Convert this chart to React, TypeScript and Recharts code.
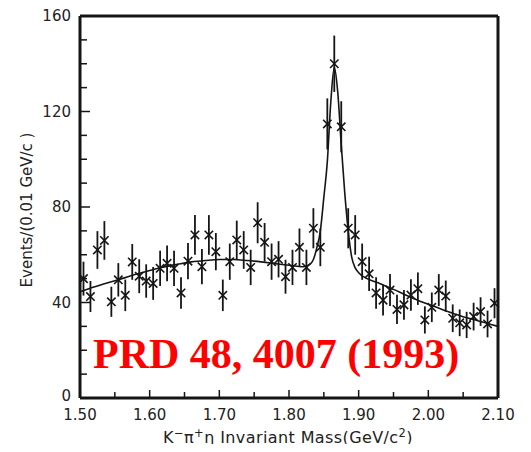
import React from 'react';
import { ComposedChart, Scatter, Line, XAxis, YAxis, ErrorBar } from 'recharts';

// bin centres (GeV/c^2), 0.01 wide
const massBins = [
  1.505, 1.515, 1.525, 1.535, 1.545, 1.555, 1.565, 1.575, 1.585, 1.595,
  1.605, 1.615, 1.625, 1.635, 1.645, 1.655, 1.665, 1.675, 1.685, 1.695,
  1.705, 1.715, 1.725, 1.735, 1.745, 1.755, 1.765, 1.775, 1.785, 1.795,
  1.805, 1.815, 1.825, 1.835, 1.845, 1.855, 1.865, 1.875, 1.885, 1.895,
  1.905, 1.915, 1.925, 1.935, 1.945, 1.955, 1.965, 1.975, 1.985, 1.995,
  2.005, 2.015, 2.025, 2.035, 2.045, 2.055, 2.065, 2.075, 2.085, 2.095,
];

const events = [
  50, 42.5, 62, 66, 40.3, 49.5, 43, 57, 51, 49,
  48, 54.3, 56.4, 54.3, 44, 57.3, 68.3, 55, 68.3, 61.3,
  43, 57.1, 66.2, 62, 54.7, 73.4, 65.2, 57.1, 58.1, 50.8,
  54.7, 63.1, 54.7, 71.1, 63.1, 114.8, 140, 113.6, 71.1, 68.3,
  57.1, 52, 44, 41, 45.2, 37.1, 39, 43.1, 45.8, 32.7,
  38, 45.2, 42.7, 33.4, 31.5, 30.6, 34.1, 36.2, 31, 39.7,
];

const eventErrors = [
  7.1, 6.5, 7.9, 8.1, 6.3, 7.0, 6.6, 7.5, 7.1, 7.0,
  6.9, 7.4, 7.5, 7.4, 6.6, 7.6, 8.3, 7.4, 8.3, 7.8,
  6.6, 7.6, 8.1, 7.9, 7.4, 8.6, 8.1, 7.6, 7.6, 7.1,
  7.4, 7.9, 7.4, 8.4, 7.9, 10.7, 11.8, 10.7, 8.4, 8.3,
  7.6, 7.2, 6.6, 6.4, 6.7, 6.1, 6.2, 6.6, 6.8, 5.7,
  6.2, 6.7, 6.5, 5.8, 5.6, 5.5, 5.8, 6.0, 5.6, 6.3,
];

// fitted curve
const fitMass = [
  1.5, 1.52, 1.54, 1.56, 1.58, 1.6, 1.62, 1.64, 1.66, 1.68,
  1.7, 1.72, 1.74, 1.76, 1.78, 1.8, 1.82, 1.83, 1.835, 1.84,
  1.845, 1.85, 1.855, 1.86, 1.865, 1.87, 1.875, 1.88, 1.885, 1.89,
  1.895, 1.9, 1.91, 1.92, 1.93, 1.95, 1.97, 1.99, 2.01, 2.03,
  2.05, 2.07, 2.09, 2.1,
];
const fitEvents = [
  44.5, 46.5, 48.3, 50, 51.8, 53.4, 54.9, 56, 57, 57.6,
  58, 58, 57.6, 57, 56.3, 55.6, 55, 56, 58, 63,
  70, 84, 99, 124, 138.5, 128, 106, 86, 70, 59,
  54.5, 52.5, 50.3, 49, 48, 45.5, 42.8, 40.3, 38.2, 36,
  34, 32.5, 30.8, 30,
];

const xTicks = [1.5, 1.55, 1.6, 1.65, 1.7, 1.75, 1.8, 1.85, 1.9, 1.95, 2.0, 2.05, 2.1];
const xTickLabels = ['1.50', '1.60', '1.70', '1.80', '1.90', '2.00', '2.10'];
const yTicks = [0, 10, 20, 30, 40, 50, 60, 70, 80, 90, 100, 110, 120, 130, 140, 150, 160];
const yTickLabels = [0, 40, 80, 120, 160];

const points = massBins.map((x, i) => ({ x, y: events[i], err: eventErrors[i] }));
const fit = fitMass.map((x, i) => ({ x, y: fitEvents[i] }));

const ink = '#151515';
const tickFont = { fontFamily: 'DejaVu Sans', fontSize: 15, fill: '#222' };

const fmtX = (v: number) => v.toFixed(2);

const BottomTick = ({ x, y, payload }: any) => {
  const label = fmtX(payload.value);
  const major = xTickLabels.includes(label);
  return (
    <g>
      <line x1={x} x2={x} y1={y} y2={y - (major ? 8 : 6)} stroke={ink} strokeWidth={1.5} />
      {major && (
        <text x={x} y={y + 22} textAnchor="middle" {...tickFont}>
          {label}
        </text>
      )}
    </g>
  );
};

const TopTick = ({ x, y, payload }: any) => {
  const major = xTickLabels.includes(fmtX(payload.value));
  return <line x1={x} x2={x} y1={y} y2={y + (major ? 9 : 6)} stroke={ink} strokeWidth={1.5} />;
};

const LeftTick = ({ x, y, payload }: any) => {
  const major = yTickLabels.includes(payload.value);
  return (
    <g>
      <line x1={x} x2={x + (major ? 10 : 7)} y1={y} y2={y} stroke={ink} strokeWidth={1.5} />
      {major && (
        <text x={x - 9} y={payload.value === 0 ? y - 2 : y} dy="0.36em" textAnchor="end" {...tickFont}>
          {payload.value}
        </text>
      )}
    </g>
  );
};

const RightTick = ({ x, y, payload }: any) => {
  const major = yTickLabels.includes(payload.value);
  return <line x1={x} x2={x - (major ? 10 : 7)} y1={y} y2={y} stroke={ink} strokeWidth={1.5} />;
};

const Cross = ({ cx, cy }: any) => {
  if (cx == null || cy == null) return null;
  const r = 4.2;
  return (
    <g stroke={ink} strokeWidth={1.6}>
      <line x1={cx - r} y1={cy - r} x2={cx + r} y2={cy + r} />
      <line x1={cx - r} y1={cy + r} x2={cx + r} y2={cy - r} />
    </g>
  );
};

const supStyle = { fontSize: '0.72em', lineHeight: 0 };

export default function App() {
  return (
    <div style={{ position: 'relative', width: 531, height: 452, margin: -8, background: '#fff' }}>
      <ComposedChart width={531} height={452} margin={{ top: 0, right: 0, bottom: 0, left: 0 }}>
        <XAxis
          xAxisId="bottom"
          dataKey="x"
          type="number"
          domain={[1.5, 2.1]}
          ticks={xTicks}
          interval={0}
          height={54}
          tickSize={0}
          tickMargin={0}
          tickLine={false}
          axisLine={{ stroke: ink, strokeWidth: 3 }}
          tick={<BottomTick />}
        />
        <XAxis
          xAxisId="top"
          orientation="top"
          type="number"
          domain={[1.5, 2.1]}
          ticks={xTicks}
          interval={0}
          height={16}
          tickSize={0}
          tickMargin={0}
          tickLine={false}
          axisLine={{ stroke: ink, strokeWidth: 3 }}
          tick={<TopTick />}
        />
        <YAxis
          yAxisId="left"
          dataKey="y"
          type="number"
          domain={[0, 160]}
          ticks={yTicks}
          interval={0}
          width={80}
          tickSize={0}
          tickMargin={0}
          tickLine={false}
          axisLine={{ stroke: ink, strokeWidth: 3 }}
          tick={<LeftTick />}
        />
        <YAxis
          yAxisId="right"
          orientation="right"
          type="number"
          domain={[0, 160]}
          ticks={yTicks}
          interval={0}
          width={33}
          tickSize={0}
          tickMargin={0}
          tickLine={false}
          axisLine={{ stroke: ink, strokeWidth: 3 }}
          tick={<RightTick />}
        />
        <Line
          xAxisId="bottom"
          yAxisId="left"
          data={fit}
          dataKey="y"
          type="monotone"
          dot={false}
          stroke={ink}
          strokeWidth={1.6}
          isAnimationActive={false}
        />
        <Scatter
          xAxisId="bottom"
          yAxisId="left"
          data={points}
          dataKey="y"
          shape={(p: any) => <Cross cx={p.cx} cy={p.cy} />}
          isAnimationActive={false}
        >
          <ErrorBar dataKey="err" direction="y" width={0} stroke={ink} strokeWidth={1.8} />
        </Scatter>
      </ComposedChart>

      <div
        style={{
          position: 'absolute',
          left: 27,
          top: 210,
          transform: 'translate(-50%, -50%) rotate(-90deg)',
          whiteSpace: 'nowrap',
          fontFamily: 'DejaVu Sans',
          fontSize: 15,
          color: '#222',
        }}
      >
        Events/(0.01 GeV/c  )
      </div>

      <div
        style={{
          position: 'absolute',
          left: 288,
          top: 428,
          transform: 'translateX(-50%)',
          whiteSpace: 'nowrap',
          fontFamily: 'DejaVu Sans',
          fontSize: 16,
          letterSpacing: 0.4,
          color: '#222',
          lineHeight: '20px',
        }}
      >
        K<sup style={supStyle}>−</sup>π<sup style={supStyle}>+</sup>η Invariant Mass(GeV/c
        <sup style={supStyle}>2</sup>)
      </div>

      <div
        style={{
          position: 'absolute',
          left: 93,
          top: 332,
          whiteSpace: 'nowrap',
          fontFamily: 'Liberation Serif',
          fontWeight: 'bold',
          fontSize: 42,
          lineHeight: '44px',
          color: '#ff0000',
        }}
      >
        PRD 48, 4007 (1993)
      </div>
    </div>
  );
}
